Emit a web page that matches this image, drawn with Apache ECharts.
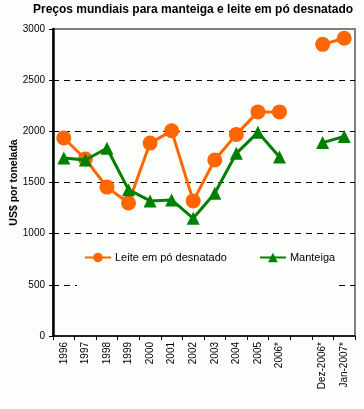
<!DOCTYPE html>
<html><head><meta charset="utf-8">
<script src="https://cdn.jsdelivr.net/npm/echarts@6/dist/echarts.min.js"></script>
<style>html,body{margin:0;padding:0;background:#fff}#c{width:364px;height:409px}</style>
</head><body><div id="c"></div>
<script>
const categories = ['1996','1997','1998','1999','2000','2001','2002','2003','2004','2005','2006*','','Dez-2006*','Jan-2007*'];
const leite = [1935, 1730, 1455, 1300, 1885, 2005, 1320, 1720, 1970, 2190, 2190, null, 2850, 2910];
const manteiga = [1740, 1720, 1835, 1430, 1320, 1330, 1150, 1395, 1785, 1990, 1750, null, 1890, 1950];
const yTicks = [0, 500, 1000, 1500, 2000, 2500, 3000];

const chart = echarts.init(document.getElementById('c'), null, {renderer:'canvas'});
chart.setOption({
  animation:false,
  backgroundColor:'#fcfefc',
  title:{text:'Preços mundiais para manteiga e leite em pó desnatado',left:28,top:-1,
    textStyle:{fontFamily:'Liberation Sans, Arial',fontSize:12,fontWeight:'bold',color:'#000'}},
  grid:{left:53,right:9,top:29,bottom:73,outerBoundsMode:'none',containLabel:false,show:true,borderColor:'#808080',borderWidth:2,backgroundColor:'#fcfefc'},
  legend:{top:242,left:77,itemGap:32,backgroundColor:'#fcfefc',padding:[10,2,28,7],itemWidth:26,itemHeight:12,
    textStyle:{fontFamily:'Liberation Sans, Arial',fontSize:11,color:'#000',padding:[0,0,0,-1]},
    data:['Leite em pó desnatado','Manteiga']},
  xAxis:{type:'category',data:categories,boundaryGap:true,
    axisLine:{lineStyle:{color:'#000',width:1.5}},
    axisTick:{show:true,alignWithLabel:false,length:4,lineStyle:{color:'#000'}},
    axisLabel:{rotate:90,interval:0,margin:6,fontFamily:'Liberation Sans, Arial',fontSize:10,color:'#000'}},
  yAxis:{type:'value',min:0,max:3000,interval:500,
    name:'US$ por tonelada',nameLocation:'middle',nameGap:33,nameRotate:90,nameMoveOverlap:false,
    nameTextStyle:{fontFamily:'Liberation Sans, Arial',fontSize:10.5,fontWeight:'bold',color:'#000'},
    axisLine:{show:true,lineStyle:{color:'#000',width:2.5}},
    axisTick:{show:true,length:4,lineStyle:{color:'#000'}},
    axisLabel:{fontFamily:'Liberation Sans, Arial',fontSize:10,color:'#000',margin:8,
      formatter:v=>yTicks.includes(v)?String(v):''},
    splitLine:{show:true,lineStyle:{type:[6,5],width:1,color:['transparent','#000','#000','#000','#000','#000','transparent']}}},
  series:[
    {name:'Leite em pó desnatado',type:'line',data:leite,connectNulls:false,symbol:'circle',symbolSize:15,
      lineStyle:{color:'#ff6600',width:3},itemStyle:{color:'#ff6600'},z:2},
    {name:'Manteiga',type:'line',data:manteiga,connectNulls:false,symbol:'triangle',symbolSize:13,
      lineStyle:{color:'#008000',width:3},itemStyle:{color:'#008000'},z:3}
  ]
});
</script></body></html>
